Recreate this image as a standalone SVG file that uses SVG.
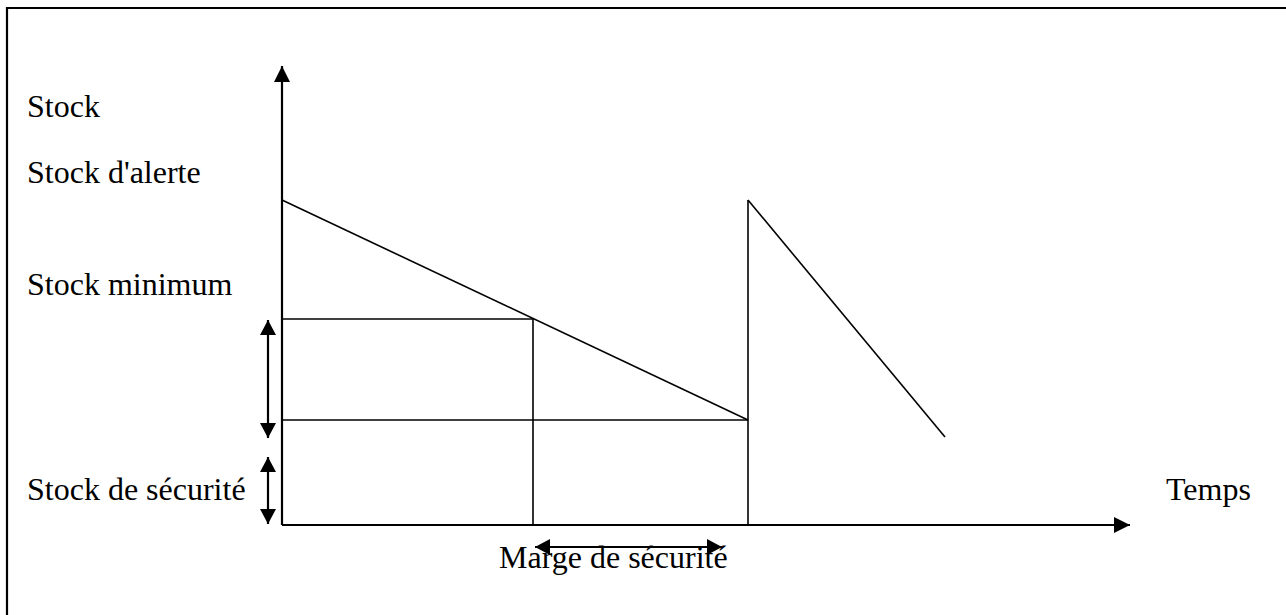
<svg xmlns="http://www.w3.org/2000/svg" width="1286" height="615" viewBox="0 0 1286 615">
<defs>
<marker id="ah" viewBox="0 0 16 16" refX="16" refY="8" markerWidth="16" markerHeight="16" markerUnits="userSpaceOnUse" orient="auto-start-reverse">
<path d="M0,0 L16,8 L0,16 Z" fill="#000"/>
</marker>
<marker id="ahs" viewBox="0 0 15 16" refX="15" refY="8" markerWidth="15" markerHeight="16" markerUnits="userSpaceOnUse" orient="auto-start-reverse">
<path d="M0,0 L15,8 L0,16 Z" fill="#000"/>
</marker>
<style>
.t{font-family:"Liberation Serif","Times New Roman",serif;font-size:32px;fill:#000}
.ln{stroke:#000;stroke-width:1.6;fill:none}
.ax{stroke:#000;stroke-width:2.2;fill:none}
</style>
</defs>
<rect width="1286" height="615" fill="#fff"/>
<g id="frame">
<path d="M7,615 L7,8 L1286,8" class="ax"/>
</g>
<g id="connectors">
<line x1="282" y1="525" x2="282" y2="66" class="ax" marker-end="url(#ah)"/>
<line x1="282" y1="525" x2="1130" y2="525" class="ax" marker-end="url(#ah)"/>
<line x1="282" y1="200" x2="748" y2="420" class="ln"/>
<line x1="282" y1="319" x2="533" y2="319" class="ln"/>
<line x1="533" y1="319" x2="533" y2="525" class="ln"/>
<line x1="282" y1="420" x2="748" y2="420" class="ln"/>
<line x1="748" y1="200" x2="748" y2="525" class="ln"/>
<line x1="748" y1="200" x2="945" y2="437" class="ln"/>
<line x1="268" y1="320" x2="268" y2="438" class="ax" marker-start="url(#ahs)" marker-end="url(#ahs)"/>
<line x1="268" y1="457" x2="268" y2="524" class="ax" marker-start="url(#ahs)" marker-end="url(#ahs)"/>
<line x1="535" y1="547" x2="722" y2="547" class="ax" marker-start="url(#ahs)" marker-end="url(#ahs)"/>
</g>
<g id="labels">
<text class="t" x="27" y="117">Stock</text>
<text class="t" x="27" y="183">Stock d'alerte</text>
<text class="t" x="27" y="295">Stock minimum</text>
<text class="t" x="27" y="500">Stock de sécurité</text>
<text class="t" x="1166" y="500">Temps</text>
<text class="t" x="499" y="568">Marge de sécurité</text>
</g>
</svg>
